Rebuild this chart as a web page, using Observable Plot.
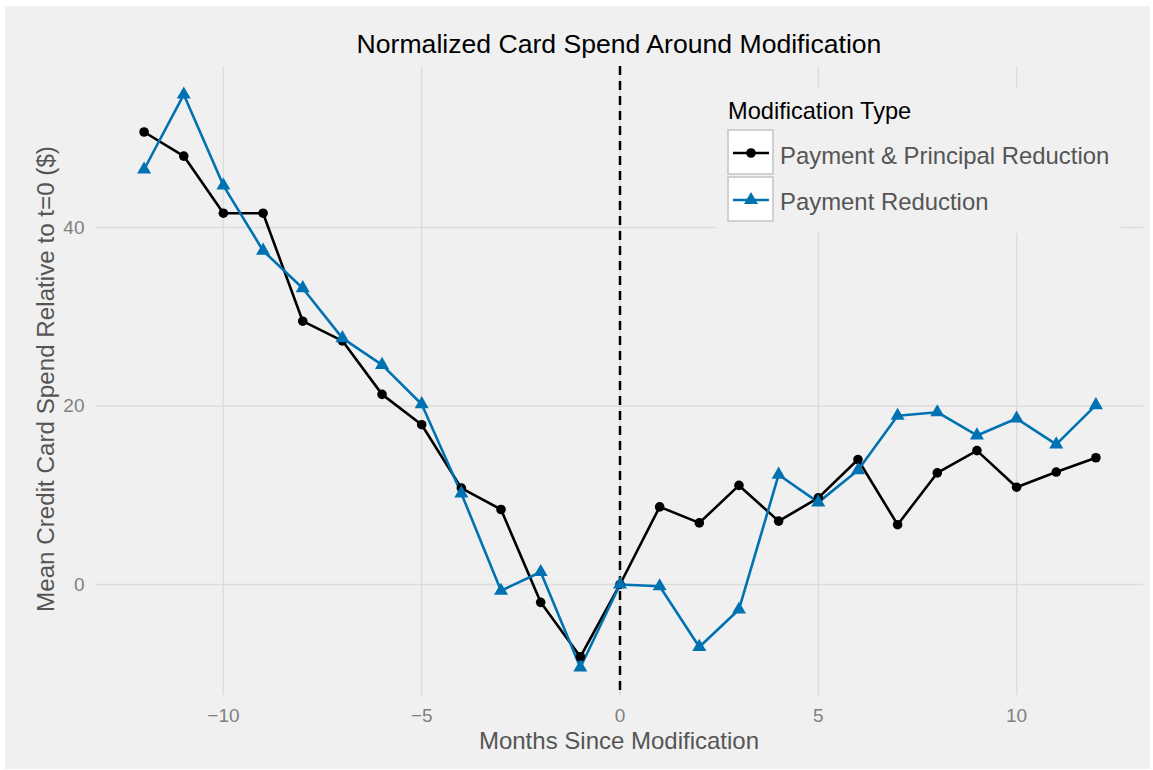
<!DOCTYPE html>
<html><head><meta charset="utf-8">
<script src="https://cdn.jsdelivr.net/npm/d3@7"></script>
<script src="https://cdn.jsdelivr.net/npm/@observablehq/plot@0.6"></script>
<style>
body{margin:0;background:#fff;font-family:"Liberation Sans",Arial,sans-serif;}
#wrap{position:relative;width:1153px;height:770px;overflow:hidden;}
#bg{position:absolute;left:5px;top:6px;width:1145px;height:763px;background:#f0f0f0;}
#chart{position:absolute;left:0;top:0;}
.t{position:absolute;white-space:nowrap;line-height:1;}
#title{font-size:26.6px;color:#000;left:619px;top:31px;transform:translateX(-50%);}
#xtitle{font-size:24px;color:#555;left:619px;top:729px;transform:translateX(-50%);}
#ytitle{font-size:24.2px;color:#555;left:46px;top:379px;transform:translate(-50%,-50%) rotate(-90deg);}
#legend{position:absolute;left:716px;top:88px;width:405px;height:145px;background:#f0f0f0;}
#ltitle{font-size:23.6px;color:#000;left:12px;top:12px;}
.key{position:absolute;left:11px;width:43px;height:42px;border:2px solid #d0d0d0;background:#fff;}
.lab{font-size:23.9px;color:#555;left:64px;}
</style></head><body>
<div id="wrap">
  <div id="bg"></div>
  <div id="chart"></div>
  <div class="t" id="title">Normalized Card Spend Around Modification</div>
  <div class="t" id="xtitle">Months Since Modification</div>
  <div class="t" id="ytitle">Mean Credit Card Spend Relative to t=0 ($)</div>
  <div id="legend">
    <div class="t" id="ltitle">Modification Type</div>
    <div class="key" id="key0" style="top:41px"></div>
    <div class="key" id="key1" style="top:88px"></div>
    <div class="t lab" id="lab0" style="top:56px"></div>
    <div class="t lab" id="lab1" style="top:102px"></div>
  </div>
</div>
<script>
const months = [-12,-11,-10,-9,-8,-7,-6,-5,-4,-3,-2,-1,0,1,2,3,4,5,6,7,8,9,10,11,12];
const principalSpend = [50.7,48.0,41.6,41.6,29.5,27.3,21.3,17.9,10.8,8.4,-2.0,-8.1,0,8.7,6.9,11.1,7.1,9.7,14.0,6.7,12.5,15.0,10.9,12.6,14.2];
const paymentSpend = [46.5,54.9,44.7,37.4,33.2,27.6,24.6,20.2,10.2,-0.7,1.4,-9.3,0,-0.2,-7.0,-2.8,12.3,9.2,12.8,18.9,19.3,16.7,18.6,15.7,20.1];
const seriesNames = ["Payment & Principal Reduction", "Payment Reduction"];
const seriesColors = ["#000000", "#0072B2"];
const xTicks = [-10,-5,0,5,10];
const yTicks = [0,20,40];

const principal = months.map((m,i)=>({month:m, spend:principalSpend[i], type:seriesNames[0]}));
const payment = months.map((m,i)=>({month:m, spend:paymentSpend[i], type:seriesNames[1]}));
const fmt = d => d < 0 ? "\u2212" + (-d) : String(d);

const chart = Plot.plot({
  width: 1153, height: 770,
  marginLeft: 96, marginRight: 10, marginTop: 66, marginBottom: 75,
  style: {background: "transparent", fontFamily: "'Liberation Sans', Arial, sans-serif"},
  x: {domain: [-13.2, 13.2]},
  y: {domain: [-12.44, 58.04]},
  marks: [
    Plot.gridX(xTicks, {stroke: "#dcdcdc", strokeOpacity: 1, strokeWidth: 1.5}),
    Plot.gridY(yTicks, {stroke: "#dcdcdc", strokeOpacity: 1, strokeWidth: 1.5}),
    Plot.axisX(xTicks, {tickSize: 0, tickPadding: 13, fontSize: 19, fill: "#808080", label: null, tickFormat: fmt}),
    Plot.axisY(yTicks, {tickSize: 0, tickPadding: 12, fontSize: 19, fill: "#808080", label: null, tickFormat: fmt}),
    Plot.ruleX([0], {stroke: "#000", strokeWidth: 2.5, strokeDasharray: "9,6"}),
    Plot.line(principal, {x: "month", y: "spend", stroke: seriesColors[0], strokeWidth: 2.6}),
    Plot.line(payment, {x: "month", y: "spend", stroke: seriesColors[1], strokeWidth: 2.6}),
    Plot.dot(principal, {x: "month", y: "spend", r: 4.8, fill: seriesColors[0], symbol: "circle"}),
    Plot.dot(payment, {x: "month", y: "spend", r: 5.2, fill: seriesColors[1], symbol: "triangle"})
  ]
});
document.getElementById("chart").appendChild(chart);

// legend keys
const keySym = [d3.symbol(d3.symbolCircle, Math.PI*4.8*4.8)(), d3.symbol(d3.symbolTriangle, Math.PI*5.2*5.2)()];
seriesNames.forEach((name, i) => {
  document.getElementById("lab"+i).textContent = name;
  document.getElementById("key"+i).innerHTML =
    `<svg width="43" height="42"><line x1="4" x2="40" y1="22" y2="22" stroke="${seriesColors[i]}" stroke-width="2.6"/>` +
    `<path transform="translate(22,22)" d="${keySym[i]}" fill="${seriesColors[i]}"/></svg>`;
});
</script>
</body></html>
